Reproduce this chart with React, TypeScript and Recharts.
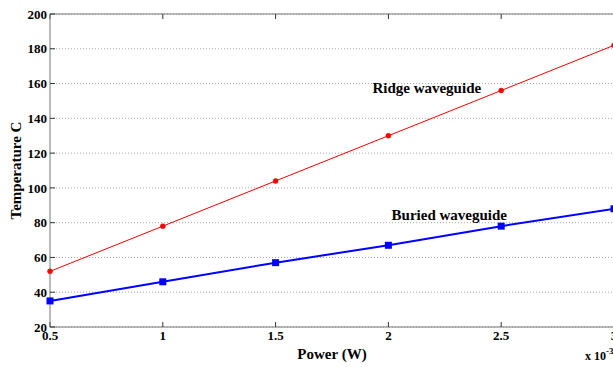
import React from 'react';
import {
  LineChart,
  Line,
  XAxis,
  YAxis,
  CartesianGrid,
  ReferenceDot,
} from 'recharts';

// power in units of 1e-3 W
const powerValues = [0.5, 1, 1.5, 2, 2.5, 3];
const ridgeTemps = [52, 78, 104, 130, 156, 182];
const buriedTemps = [35, 46, 57, 67, 78, 88];

const xTicks = [0.5, 1, 1.5, 2, 2.5, 3];
const yTicks = [20, 40, 60, 80, 100, 120, 140, 160, 180, 200];

const data = powerValues.map((p, i) => ({
  power: p,
  ridge: ridgeTemps[i],
  buried: buriedTemps[i],
}));

const font = '"Liberation Serif", "Times New Roman", serif';
const tickStyle = { fontFamily: font, fontWeight: 700, fontSize: 13, fill: '#000' };
const axisColor = '#777';

const SquareDot = (props: any) => {
  const { cx, cy } = props;
  if (cx == null || cy == null) return null;
  return <rect x={cx - 3.5} y={cy - 3.5} width={7} height={7} fill="#0000ff" />;
};

const annotation = (text: string) => (props: any) => {
  const { viewBox } = props;
  return (
    <text
      x={viewBox.cx ?? viewBox.x}
      y={viewBox.cy ?? viewBox.y}
      textAnchor="middle"
      dominantBaseline="central"
      style={{ fontFamily: font, fontWeight: 700, fontSize: 15, fill: '#000' }}
    >
      {text}
    </text>
  );
};

const App: React.FC = () => {
  return (
    <div
      style={{
        position: 'absolute',
        left: 0,
        top: 0,
        width: 613,
        height: 367,
        overflow: 'hidden',
        background: '#fff',
      }}
    >
      <LineChart
        width={640}
        height={367}
        data={data}
        margin={{ top: 13, right: 0, bottom: 0, left: 0 }}
      >
        <CartesianGrid vertical={false} stroke="#aaa" strokeDasharray="1 2" />
        <XAxis
          dataKey="power"
          type="number"
          domain={[0.5, 3]}
          ticks={xTicks}
          height={40}
          tickSize={-5}
          tickMargin={9}
          tick={tickStyle}
          axisLine={{ stroke: axisColor }}
          tickLine={{ stroke: '#333' }}
          label={{
            value: 'Power (W)',
            position: 'insideBottom',
            offset: 8,
            style: { fontFamily: font, fontWeight: 700, fontSize: 15, fill: '#000' },
          }}
        />
        <XAxis
          xAxisId="top"
          orientation="top"
          dataKey="power"
          type="number"
          domain={[0.5, 3]}
          ticks={xTicks}
          height={1}
          tickSize={-5}
          tickFormatter={() => ''}
          axisLine={{ stroke: axisColor }}
          tickLine={{ stroke: '#333' }}
        />
        <YAxis
          type="number"
          domain={[20, 200]}
          ticks={yTicks}
          width={50}
          tickSize={-5}
          tickMargin={8}
          tick={tickStyle}
          axisLine={{ stroke: axisColor }}
          tickLine={{ stroke: '#333' }}
          label={{
            value: 'Temperature C',
            angle: -90,
            position: 'insideLeft',
            offset: 16,
            style: { textAnchor: 'middle', fontFamily: font, fontWeight: 700, fontSize: 15, fill: '#000' },
          }}
        />
        <YAxis
          yAxisId="right"
          orientation="right"
          type="number"
          domain={[20, 200]}
          ticks={yTicks}
          width={26}
          tickSize={-5}
          tickFormatter={() => ''}
          axisLine={{ stroke: axisColor }}
          tickLine={{ stroke: '#333' }}
        />
        <Line
          type="linear"
          dataKey="ridge"
          stroke="#ff0000"
          strokeWidth={1}
          dot={{ r: 2.5, fill: '#ff0000', stroke: '#ff0000', strokeWidth: 0.5 }}
          isAnimationActive={false}
        />
        <Line
          type="linear"
          dataKey="buried"
          stroke="#0000ff"
          strokeWidth={2}
          dot={<SquareDot />}
          isAnimationActive={false}
        />
        <ReferenceDot
          x={2.17}
          y={157.5}
          r={0}
          fill="none"
          stroke="none"
          ifOverflow="visible"
          label={annotation('Ridge waveguide')}
        />
        <ReferenceDot
          x={2.27}
          y={84.5}
          r={0}
          fill="none"
          stroke="none"
          ifOverflow="visible"
          label={annotation('Buried waveguide')}
        />
      </LineChart>
      <div
        style={{
          position: 'absolute',
          left: 585,
          top: 347,
          fontFamily: font,
          fontWeight: 700,
          fontSize: 12,
          whiteSpace: 'nowrap',
        }}
      >
        x 10<sup style={{ fontSize: 9, position: 'relative', top: -1 }}>-3</sup>
      </div>
    </div>
  );
};

export default App;
